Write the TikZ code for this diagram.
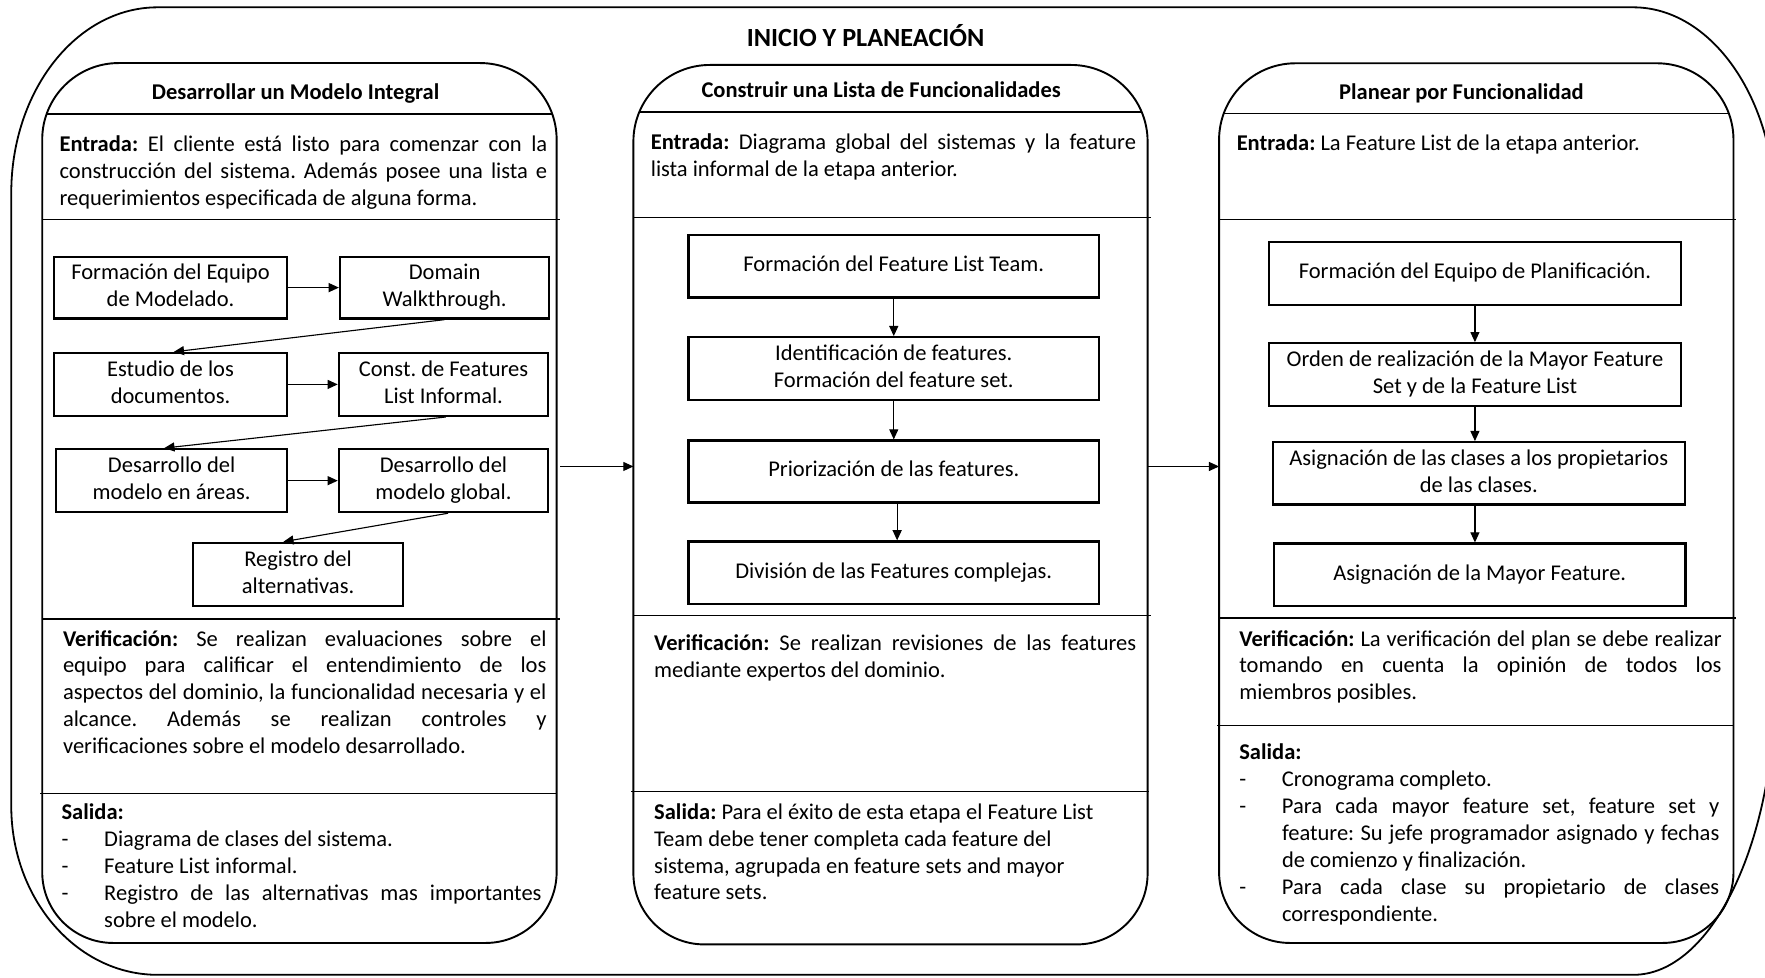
\documentclass[tikz,border=0pt]{standalone}
\usepackage{fontspec}
\setmainfont{Carlito}
\usetikzlibrary{arrows.meta,calc}
\newcommand\bodyfont{\fontsize{20}{23.9}\selectfont\frenchspacing}
\newcommand\jl[2]{\makebox[#1][s]{#2}}
\newcommand\bul{\makebox[37.9pt][l]{-}}
\newcommand\ind{\hspace*{37.9pt}}
\tikzset{
  panelline/.style={line width=1.7pt},
  sepline/.style={line width=1.1pt},
  flowbox/.style={draw, line width=1.9pt, align=center, font=\bodyfont, inner sep=0pt},
  para/.style={anchor=north west, inner sep=0pt, align=left, font=\bodyfont},
  ttl/.style={anchor=base, inner sep=0pt, font=\fontsize{20}{24}\selectfont\bfseries},
  panelbox/.style={draw=none, inner sep=0pt, outer sep=0pt},
  arr/.style={line width=1pt, -{Triangle[length=9pt,width=8pt]}},
}
\begin{document}
\frenchspacing
\begin{tikzpicture}[x=1pt,y=-1pt]
\useasboundingbox (0,0) rectangle (1568,868);
\fill[white] (0,0) rectangle (1568,868);

% outer frame
\draw[line width=1.6pt] (10,171.5) .. controls (10,80.4) and (68.2,6.5) .. (140,6.5)
  -- (1451,6.5) .. controls (1520,6.5) and (1577,87.1) .. (1577,186.5)
  -- (1577,606) .. controls (1577,749.6) and (1520,866) .. (1451,866)
  -- (140,866) .. controls (68.2,866) and (10,798.8) .. (10,716) -- cycle;

\node[ttl, font=\fontsize{23.3}{28}\selectfont\bfseries] (title) at (769,41.4) {INICIO Y PLANEACIÓN};

% panels
\node[panelbox, minimum width=457pt, minimum height=781.7pt] (P1) at (266,446.85) {};
\node[panelbox, minimum width=456.8pt, minimum height=781.3pt] (P2) at (791.1,448.35) {};
\node[panelbox, minimum width=457pt, minimum height=781.5pt] (P3) at (1311.5,446.95) {};

\begin{scope}
\clip (P1.west) [rounded corners=68pt] -- (P1.north west) -- (P1.north east) -- (P1.east) -- cycle;
\draw[sepline] (30,101.2) -- (500,101.2);
\end{scope}
\begin{scope}
\clip (P2.west) [rounded corners=68pt] -- (P2.north west) -- (P2.north east) -- (P2.east) -- cycle;
\draw[sepline] (555,99.5) -- (1025,99.5);
\end{scope}
\begin{scope}
\clip (P3.west) [rounded corners=68pt] -- (P3.north west) -- (P3.north east) -- (P3.east) -- cycle;
\draw[sepline] (1075,101) -- (1545,101);
\end{scope}

\draw[panelline] (P1.west) [rounded corners=68pt] -- (P1.north west) -- (P1.north east) -- (P1.east) [rounded corners=63pt] -- (P1.south east) -- (P1.south west) -- cycle;
\draw[panelline] (P2.west) [rounded corners=68pt] -- (P2.north west) -- (P2.north east) -- (P2.east) [rounded corners=63pt] -- (P2.south east) -- (P2.south west) -- cycle;
\draw[panelline] (P3.west) [rounded corners=68pt] -- (P3.north west) -- (P3.north east) -- (P3.east) [rounded corners=63pt] -- (P3.south east) -- (P3.south west) -- cycle;

% separators
\draw[sepline] (37.5,194.8) -- (497.8,194.8);
\draw[sepline] (37.5,550) -- (497.8,550);
\draw[sepline] (35.6,705) -- (494.5,705);
\draw[sepline] (562.7,193) -- (1022.9,193);
\draw[sepline] (562.7,547) -- (1022.9,547);
\draw[sepline] (561,703) -- (1021,703);
\draw[sepline] (1083,194.8) -- (1542.5,194.8);
\draw[sepline] (1083,549) -- (1542.5,549);
\draw[sepline] (1081.4,644.7) -- (1539.8,644.7);

% panel titles
\node[ttl] (t1) at (262.6,88.8) {Desarrollar un Modelo Integral};
\node[ttl] (t2) at (782.8,86.4) {Construir una Lista de Funcionalidades};
\node[ttl] (t3) at (1298.3,88) {Planear por Funcionalidad};

% left panel texts
\node[para] (Lin) at (52.7,118.0) {\strut\jl{433.3pt}{\textbf{Entrada:} El cliente está listo para comenzar con la}\\
 \strut\jl{433.3pt}{construcción del sistema. Además posee una lista e}\\
 \strut requerimientos especificada de alguna forma.};
\node[para] (Lver) at (55.8,557.0) {\strut\jl{429.5pt}{\textbf{Verificación:} Se realizan evaluaciones sobre el}\\
 \strut\jl{429.5pt}{equipo para calificar el entendimiento de los}\\
 \strut\jl{429.5pt}{aspectos del dominio, la funcionalidad necesaria y el}\\
 \strut\jl{429.5pt}{alcance. Además se realizan controles y}\\
 \strut verificaciones sobre el modelo desarrollado.};
\node[para] (Lout) at (54.5,711.3) {\strut\textbf{Salida:}\\
 \strut\bul Diagrama de clases del sistema.\\
 \strut\bul Feature List informal.\\
 \strut\bul\jl{388.5pt}{Registro de las alternativas mas importantes}\\
 \strut\ind sobre el modelo.};

% middle panel texts
\node[para] (Min) at (578,115.6) {\strut\jl{431pt}{\textbf{Entrada:} Diagrama global del sistemas y la feature}\\
 \strut lista informal de la etapa anterior.};
\node[para] (Mver) at (581,561.1) {\strut\jl{428.2pt}{\textbf{Verificación:} Se realizan revisiones de las features}\\
 \strut mediante expertos del dominio.};
\node[para] (Mout) at (581,710.9) {\strut\textbf{Salida:} Para el éxito de esta etapa el Feature List\\
 \strut Team debe tener completa cada feature del\\
 \strut sistema, agrupada en feature sets and mayor\\
 \strut feature sets.};

% right panel texts
\node[para] (Rin) at (1098.5,117.1) {\strut\textbf{Entrada:} La Feature List de la etapa anterior.};
\node[para] (Rver) at (1100.8,557.0) {\strut\jl{428.5pt}{\textbf{Verificación:} La verificación del plan se debe realizar}\\
 \strut\jl{428.5pt}{tomando en cuenta la opinión de todos los}\\
 \strut miembros posibles.};
\node[para] (Rout) at (1100.8,658.2) {\strut\textbf{Salida:}\\
 \strut\bul Cronograma completo.\\
 \strut\bul\jl{388.5pt}{Para cada mayor feature set, feature set y}\\
 \strut\ind\jl{388.5pt}{feature: Su jefe programador asignado y fechas}\\
 \strut\ind de comienzo y finalización.\\
 \strut\bul\jl{388.5pt}{Para cada clase su propietario de clases}\\
 \strut\ind correspondiente.};

% left flow boxes
\node[flowbox, minimum width=207pt, minimum height=55pt] (B1) at (151.5,255.5) {\strut Formación del Equipo\\\strut de Modelado.};
\node[flowbox, minimum width=186pt, minimum height=55pt] (B2) at (395,255.5) {\strut Domain\\\strut Walkthrough.};
\node[flowbox, minimum width=207pt, minimum height=56pt] (B3) at (151.5,341.5) {\strut Estudio de los\\\strut documentos.};
\node[flowbox, minimum width=186pt, minimum height=56pt] (B4) at (394,341.5) {\strut Const. de Features\\\strut List Informal.};
\node[flowbox, minimum width=205pt, minimum height=56pt] (B5) at (152.5,427) {\strut Desarrollo del\\\strut modelo en áreas.};
\node[flowbox, minimum width=186pt, minimum height=56pt] (B6) at (394,427) {\strut Desarrollo del\\\strut modelo global.};
\node[flowbox, minimum width=186.4pt, minimum height=56pt] (B7) at (264.8,510.2) {\strut Registro del\\\strut alternativas.};

\draw[arr] (B1.east) -- (B2.west);
\draw[arr] (B3.east) -- (B4.west);
\draw[arr] (B5.east) -- (B6.west);
\draw[arr] (B2.south) -- ($(B3.north)+(3,0)$);
\draw[arr] ($(B4.south)+(2,0)$) -- ($(B5.north)+(-6.5,0)$);
\draw[arr] ($(B6.south)+(4,0)$) -- ($(B7.north)+(-13,0)$);

% middle flow boxes
\node[flowbox, minimum width=364.7pt, minimum height=55.6pt] (M1) at (794,236.5) {\strut Formación del Feature List Team.};
\node[flowbox, minimum width=364.7pt, minimum height=55.5pt] (M2) at (794,327.3) {\strut Identificación de features.\\\strut Formación del feature set.};
\node[flowbox, minimum width=364.7pt, minimum height=55.1pt] (M3) at (794,418.9) {\strut Priorización de las features.};
\node[flowbox, minimum width=364.7pt, minimum height=55.4pt] (M4) at (794,508.7) {\strut División de las Features complejas.};
\draw[arr] (M1.south) -- (M2.north);
\draw[arr] (M2.south) -- (M3.north);
\draw[arr] ($(M3.south)+(3,0)$) -- ($(M4.north)+(3,0)$);

% right flow boxes
\node[flowbox, minimum width=366pt, minimum height=56pt] (R1) at (1310.3,243) {\strut Formación del Equipo de Planificación.};
\node[flowbox, minimum width=366pt, minimum height=55.6pt] (R2) at (1310.3,332.7) {\strut Orden de realización de la Mayor Feature\\\strut Set y de la Feature List};
\node[flowbox, minimum width=366pt, minimum height=55.4pt] (R3) at (1313.7,420.5) {\strut Asignación de las clases a los propietarios\\\strut de las clases.};
\node[flowbox, minimum width=365.6pt, minimum height=55.3pt] (R4) at (1314.6,510.5) {\strut Asignación de la Mayor Feature.};
\draw[arr] (R1.south) -- (R2.north);
\draw[arr] (R2.south) -- (R2.south |- R3.north);
\draw[arr] (R3.south -| R2.south) -- (R4.north -| R2.south);

% inter-panel arrows
\coordinate (ay) at (0,414.4);
\draw[arr] ($(P1.east |- ay)+(3,0)$) -- (P2.west |- ay);
\draw[arr] (P2.east |- ay) -- (P3.west |- ay);
\end{tikzpicture}
\end{document}
